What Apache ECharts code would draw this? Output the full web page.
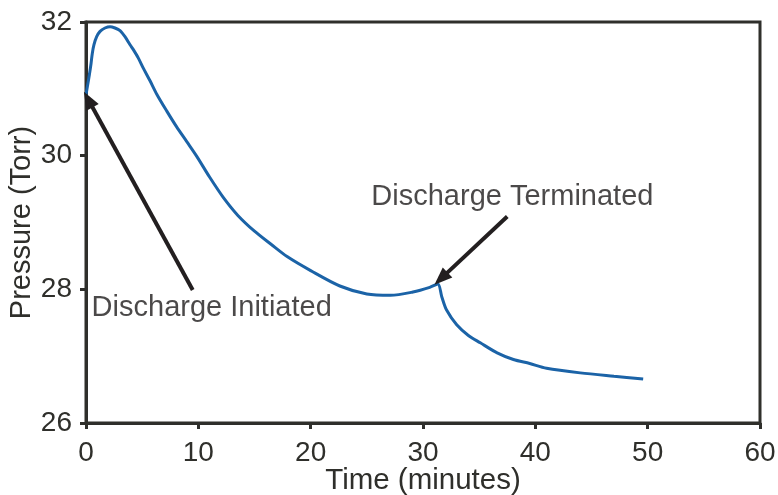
<!DOCTYPE html>
<html>
<head>
<meta charset="utf-8">
<script src="https://cdn.jsdelivr.net/npm/echarts@6/dist/echarts.min.js"></script>
<style>html,body{margin:0;padding:0;background:#fff;}#c{width:778px;height:495px;}</style>
</head>
<body>
<div id="c"></div>
<script>
var time = [0, 0.12, 0.30, 0.45, 0.56, 0.71, 0.95, 1.25, 1.69, 2.14, 2.58, 3.03, 3.47, 3.92, 4.2, 4.66, 5.1, 5.7, 6.3, 7.18, 8.07, 8.97, 9.86, 11.0, 12.2, 13.5, 15.0, 16.5, 17.9, 20.0, 22.6, 25.0, 27.1, 29.1, 30.6, 31.32, 31.67, 32.1, 33.0, 34.04, 35.1, 36.6, 38.05, 39.5, 41.0, 44.0, 47.0, 49.6];
var pressure = [30.91, 31.03, 31.21, 31.38, 31.53, 31.66, 31.78, 31.86, 31.91, 31.93, 31.91, 31.87, 31.78, 31.66, 31.59, 31.46, 31.31, 31.12, 30.92, 30.67, 30.43, 30.21, 29.99, 29.68, 29.38, 29.11, 28.87, 28.67, 28.49, 28.28, 28.05, 27.93, 27.91, 27.96, 28.03, 28.08, 27.89, 27.69, 27.47, 27.31, 27.20, 27.05, 26.95, 26.89, 26.82, 26.75, 26.70, 26.66];
var xTicks = [0, 10, 20, 30, 40, 50, 60];
var yTicks = [26, 28, 30, 32];
var labels = ["Discharge Initiated", "Discharge Terminated"];
var labelPos = [[0.5, 27.72], [25.4, 29.38]];
var arrows = [[[9.5, 27.99], [0.2, 30.84]], [[37.5, 29.09], [31.6, 28.16]]];

var ink = '#2f2f2b';
var chart = echarts.init(document.getElementById('c'));
var data = time.map(function (t, i) { return [t, pressure[i]]; });
var arrowData = arrows.map(function (a) {
  return [{ coord: a[0] }, { coord: a[1] }];
});
chart.setOption({
  animation: false,
  textStyle: { fontFamily: 'Liberation Sans, Arial, sans-serif' },
  grid: { left: 86, right: 18, top: 22, bottom: 72, show: true, borderColor: ink, borderWidth: 3, containLabel: false, outerBoundsMode: 'none' },
  xAxis: {
    type: 'value', min: xTicks[0], max: xTicks[xTicks.length - 1], interval: 10,
    name: 'Time (minutes)', nameLocation: 'middle', nameGap: 43, nameMoveOverlap: false,
    nameTextStyle: { fontSize: 29.5, color: ink },
    axisLine: { show: true, lineStyle: { color: ink, width: 3 } },
    axisTick: { show: true, length: 6, lineStyle: { color: ink, width: 3 } },
    axisLabel: { fontSize: 28, color: ink, margin: 16 },
    splitLine: { show: false }
  },
  yAxis: {
    type: 'value', min: yTicks[0], max: yTicks[yTicks.length - 1], interval: 2,
    name: 'Pressure (Torr)', nameLocation: 'middle', nameGap: 50, nameMoveOverlap: false,
    nameTextStyle: { fontSize: 29, color: ink },
    axisLine: { show: true, lineStyle: { color: ink, width: 3 } },
    axisTick: { show: true, length: 6, lineStyle: { color: ink, width: 3 } },
    axisLabel: { fontSize: 28, color: ink, margin: 14 },
    splitLine: { show: false }
  },
  series: [
    {
      type: 'line', data: data, showSymbol: false, smooth: 0.3,
      lineStyle: { color: '#1b63a7', width: 3 },
      markLine: {
        silent: true, symbol: ['none', 'triangle'], symbolSize: [14, 18],
        lineStyle: { color: '#231f20', width: 4, type: 'solid' },
        label: { show: false },
        data: arrowData
      }
    },
    {
      type: 'scatter', symbolSize: 0, silent: true,
      data: labels.map(function (l, i) { return { value: labelPos[i], name: l }; }),
      label: {
        show: true, position: 'right', distance: 0, formatter: '{b}',
        fontSize: 29, color: '#1e1b1c', fontFamily: 'Liberation Sans, Arial, sans-serif'
      }
    }
  ]
});
</script>
</body>
</html>
